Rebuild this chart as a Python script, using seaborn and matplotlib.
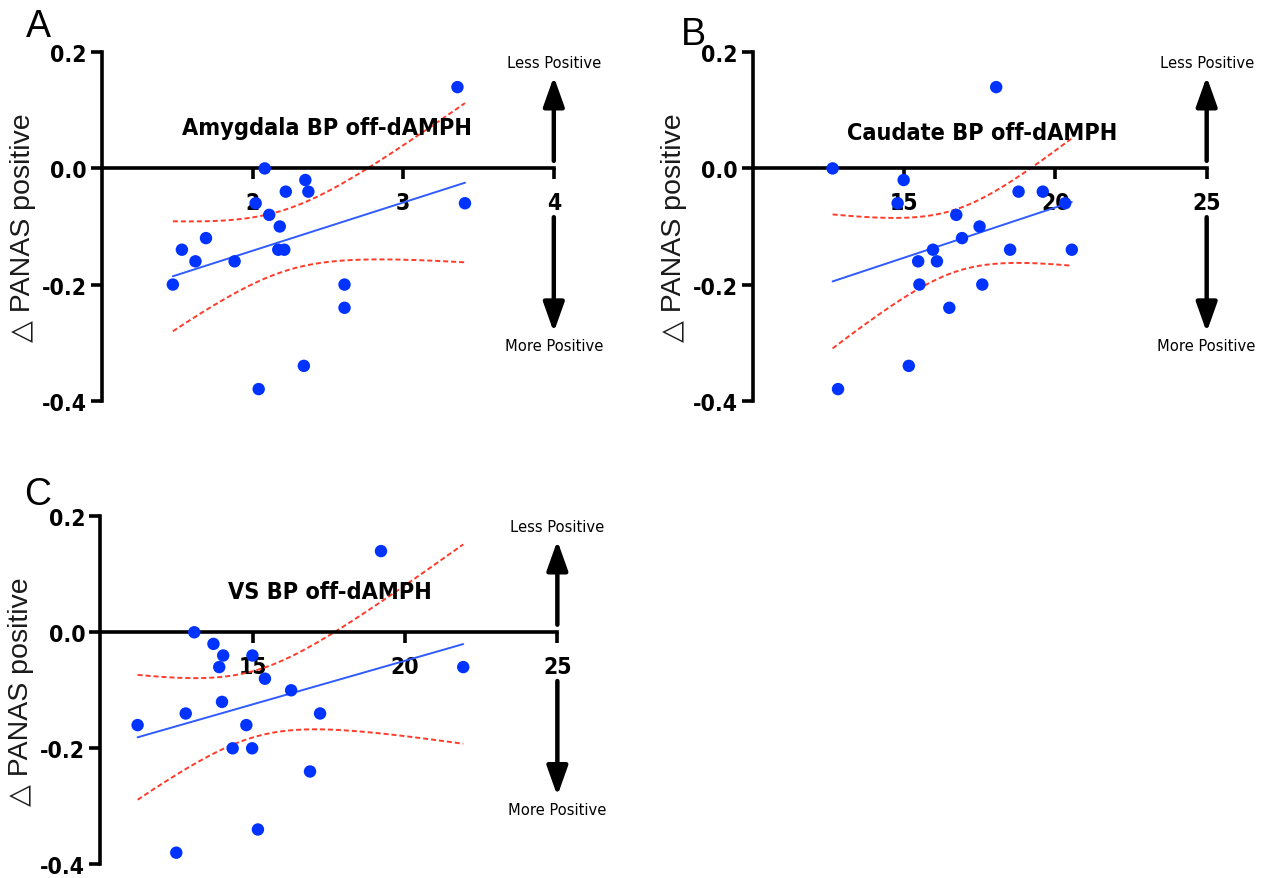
import numpy as np
import pandas as pd
import matplotlib
matplotlib.use("Agg")
import matplotlib.pyplot as plt
import seaborn as sns
from matplotlib import font_manager
from matplotlib.font_manager import FontProperties

# ---------------- data ----------------
amyg_x = [1.47, 1.53, 1.62, 1.69, 1.88, 2.02, 2.08, 2.11, 2.18, 2.17,
          2.21, 2.22, 2.35, 2.37, 2.04, 2.34, 2.61, 2.61, 3.41, 3.36]
amyg_y = [-0.20, -0.14, -0.16, -0.12, -0.16, -0.06, 0.00, -0.08, -0.10, -0.14,
          -0.14, -0.04, -0.02, -0.04, -0.38, -0.34, -0.20, -0.24, -0.06, 0.14]

caud_x = [12.63, 14.98, 14.78, 16.72, 17.49, 16.91, 15.95, 15.46, 16.08, 15.50,
          17.58, 16.49, 15.15, 12.81, 18.50, 18.78, 19.58, 20.32, 20.54, 18.04]
caud_y = [0.00, -0.02, -0.06, -0.08, -0.10, -0.12, -0.14, -0.16, -0.16, -0.20,
          -0.20, -0.24, -0.34, -0.38, -0.14, -0.04, -0.04, -0.06, -0.14, 0.14]

vs_x = [11.22, 12.80, 12.49, 13.08, 13.71, 14.03, 13.90, 13.99, 14.34, 14.98,
        14.79, 14.99, 15.40, 16.26, 17.21, 16.88, 15.17, 21.91, 19.21]
vs_y = [-0.16, -0.14, -0.38, 0.00, -0.02, -0.04, -0.06, -0.12, -0.20, -0.20,
        -0.16, -0.04, -0.08, -0.10, -0.14, -0.24, -0.34, -0.06, 0.14]

titles = ["Amygdala BP off-dAMPH", "Caudate BP off-dAMPH", "VS BP off-dAMPH"]
letters = ["A", "B", "C"]
ylabel_text = "\u25b3 PANAS positive"
yticks = [0.2, 0.0, -0.2, -0.4]
ytick_labels = ["0.2", "0.0", "-0.2", "-0.4"]
xticks_amyg = [2, 3, 4]
xticks_striatal = [15, 20, 25]
arrow_up_text = "Less Positive"
arrow_down_text = "More Positive"

# ---------------- style ----------------
sns.set_theme(style="white")
plt.rcParams["font.family"] = ["Liberation Sans", "DejaVu Sans"]
for k in ["text.color", "axes.labelcolor", "xtick.color", "ytick.color", "axes.edgecolor"]:
    plt.rcParams[k] = "black"


def _is_bold(f):
    w = f.weight
    return (isinstance(w, (int, float)) and w >= 600) or (isinstance(w, str) and "bold" in w.lower())


def _is_narrow(f):
    return ("Narrow" in f.name or "Condensed" in f.name
            or str(f.stretch) in ("condensed", "semi-condensed", "extra-condensed"))


narrow_bold = None
narrow_reg = None
for f in font_manager.fontManager.ttflist:
    if not _is_narrow(f) or f.style != "normal":
        continue
    if _is_bold(f) and narrow_bold is None:
        narrow_bold = f.fname
    if not _is_bold(f) and narrow_reg is None:
        narrow_reg = f.fname


def fp_bold(size, wide_size):
    if narrow_bold:
        return FontProperties(fname=narrow_bold, size=size)
    return FontProperties(family="Liberation Sans", weight="bold", size=wide_size)


def fp_reg(size, wide_size):
    if narrow_reg:
        return FontProperties(fname=narrow_reg, size=size)
    return FontProperties(family="Liberation Sans", size=wide_size)


POINT_C = "#0033ff"
FIT_C = "#2f5bff"
CI_C = "#ff3b2a"

fig = plt.figure(figsize=(12.65, 8.79), dpi=100)

rects = [
    [0.0807, 0.5430, 0.3571, 0.3964],
    [0.5953, 0.5430, 0.3586, 0.3964],
    [0.0794, 0.0156, 0.3612, 0.3959],
]
panels = [
    (amyg_x, amyg_y, (1, 4), xticks_amyg, (2.49, 0.070)),
    (caud_x, caud_y, (10, 25), xticks_striatal, (17.58, 0.062)),
    (vs_x, vs_y, (10, 25), xticks_striatal, (17.54, 0.070)),
]
letter_pos = [(0.030, 0.969), (0.548, 0.960), (0.030, 0.437)]

for i, (rect, (xs, ys, xlim, xt, tpos)) in enumerate(zip(rects, panels)):
    ax = fig.add_axes(rect)
    df = pd.DataFrame({"x": xs, "y": ys})

    # linear fit + 95% confidence band of the mean
    x = np.asarray(xs, float)
    y = np.asarray(ys, float)
    n = len(x)
    b, a = np.polyfit(x, y, 1)
    grid = np.linspace(x.min(), x.max(), 200)
    yhat = a + b * grid
    resid = y - (a + b * x)
    s = np.sqrt(np.sum(resid ** 2) / (n - 2))
    sxx = np.sum((x - x.mean()) ** 2)
    tval = 2.101 if n == 20 else 2.110
    se = s * np.sqrt(1.0 / n + (grid - x.mean()) ** 2 / sxx)
    fit_df = pd.DataFrame({"x": grid, "fit": yhat, "lo": yhat - tval * se, "hi": yhat + tval * se})

    sns.lineplot(data=fit_df, x="x", y="fit", ax=ax, color=FIT_C, lw=1.4, zorder=2)
    sns.lineplot(data=fit_df, x="x", y="lo", ax=ax, color=CI_C, lw=1.4, ls=(0, (2.6, 1.5)), zorder=2)
    sns.lineplot(data=fit_df, x="x", y="hi", ax=ax, color=CI_C, lw=1.4, ls=(0, (2.6, 1.5)), zorder=2)
    sns.scatterplot(data=df, x="x", y="y", ax=ax, color=POINT_C, s=80, edgecolor="none",
                    zorder=4, clip_on=False)

    ax.set_xlim(*xlim)
    ax.set_ylim(-0.4, 0.2)
    ax.set_xlabel("")
    ax.set_ylabel(ylabel_text, fontsize=20.5, color="#1a1a1a",
                  family=["Liberation Sans", "DejaVu Sans"])
    ax.yaxis.set_label_coords(-0.146, 0.5)

    for sp in ["top", "right"]:
        ax.spines[sp].set_visible(False)
    ax.spines["bottom"].set_position(("data", 0))
    for sp in ["left", "bottom"]:
        ax.spines[sp].set_linewidth(2.6)
        ax.spines[sp].set_color("black")
        ax.spines[sp].set_zorder(3)

    ax.set_yticks(yticks)
    ax.set_yticklabels(ytick_labels)
    ax.set_xticks(xt)
    ax.set_xticklabels([str(v) for v in xt])
    ax.tick_params(axis="both", direction="out", length=8, width=2.6, color="black",
                   labelcolor="black", left=True, bottom=True)
    ax.tick_params(axis="x", pad=8)
    ax.tick_params(axis="y", pad=3)
    tick_fp = fp_bold(16.5, 16)
    for lab in ax.get_xticklabels() + ax.get_yticklabels():
        lab.set_fontproperties(tick_fp)
    ax.grid(False)
    ax.set_facecolor("none")

    ax.text(tpos[0], tpos[1], titles[i], ha="center", va="center",
            fontproperties=fp_bold(16.8, 17.5), zorder=5)

    # direction arrows on the right edge
    xr = xlim[1]
    style = "-|>,head_length=0.9,head_width=0.32"
    ax.annotate("", xy=(xr, 0.158), xytext=(xr, 0.013),
                arrowprops=dict(arrowstyle=style, lw=3.2, color="black",
                                mutation_scale=20, shrinkA=0, shrinkB=0),
                annotation_clip=False)
    ax.annotate("", xy=(xr, -0.282), xytext=(xr, -0.084),
                arrowprops=dict(arrowstyle=style, lw=3.2, color="black",
                                mutation_scale=20, shrinkA=0, shrinkB=0),
                annotation_clip=False)
    ax.text(xr, 0.182, arrow_up_text, ha="center", va="center",
            fontproperties=fp_reg(11.8, 11.5), clip_on=False)
    ax.text(xr, -0.305, arrow_down_text, ha="center", va="center",
            fontproperties=fp_reg(11.8, 11.5), clip_on=False)

    fig.text(letter_pos[i][0], letter_pos[i][1], letters[i], ha="center", va="center",
             fontsize=27, color="black", family=["Liberation Sans", "DejaVu Sans"])

fig.savefig("out.png", dpi=100, facecolor="white")
